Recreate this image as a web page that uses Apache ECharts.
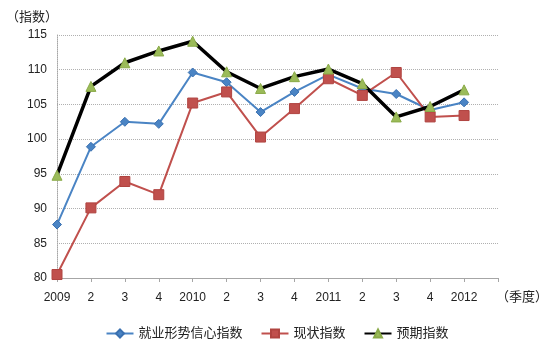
<!DOCTYPE html>
<html>
<head>
<meta charset="utf-8">
<script src="https://cdn.jsdelivr.net/npm/echarts@6/dist/echarts.min.js"></script>
<style>
html,body{margin:0;padding:0;background:#fff;}
#main{width:554px;height:353px;}
</style>
</head>
<body>
<div id="main"></div>
<script>
// 季度分类：最后一个空位留给（季度）
var quarters = ['2009','2','3','4','2010','2','3','4','2011','2','3','4','2012',''];
var jobIndex = [87.7, 98.9, 102.5, 102.2, 109.6, 108.2, 103.9, 106.8, 109.3, 107.3, 106.5, 104.2, 105.3, null];
var nowIndex = [80.5, 90.1, 93.9, 92.0, 105.2, 106.8, 100.3, 104.4, 108.7, 106.3, 109.6, 103.2, 103.4, null];
var expIndex = [94.8, 107.6, 111.0, 112.7, 114.1, 109.7, 107.3, 109.0, 110.1, 108.0, 103.2, 104.7, 107.1, null];
var yTicks = [80, 85, 90, 95, 100, 105, 110, 115];

var fontFamily = '"Liberation Sans","Noto Sans CJK SC",sans-serif';
var chart = echarts.init(document.getElementById('main'));
var option = {
    animation: false,
    textStyle: {fontFamily: fontFamily},
    grid: {left: 57, right: 56, top: 35, bottom: 75},
    xAxis: {
        type: 'category',
        data: quarters,
        boundaryGap: false,
        axisLine: {lineStyle: {color: '#a6a6a6', width: 1}},
        axisTick: {show: true, interval: 0, length: 4, lineStyle: {color: '#a6a6a6'}},
        axisLabel: {interval: 0, color: '#222', fontSize: 12, margin: 14},
        splitLine: {show: false}
    },
    yAxis: {
        type: 'value',
        min: yTicks[0],
        max: yTicks[yTicks.length - 1],
        interval: 5,
        axisLine: {show: true, lineStyle: {color: '#a6a6a6', type: 'dotted'}},
        axisTick: {show: false},
        axisLabel: {color: '#222', fontSize: 12, margin: 10},
        splitLine: {lineStyle: {color: '#b0b0b0', type: 'dotted', width: 1}}
    },
    legend: {
        bottom: 8,
        left: 'center',
        itemWidth: 27,
        itemHeight: 10,
        itemGap: 18,
        textStyle: {fontSize: 13, color: '#222', fontFamily: fontFamily},
        data: ['就业形势信心指数', '现状指数', '预期指数']
    },
    graphic: [
        {type: 'text', left: 6, top: 11, style: {text: '（指数）', fontSize: 13, fill: '#222', fontFamily: fontFamily}},
        {type: 'text', left: 496, top: 291, style: {text: '（季度）', fontSize: 13, fill: '#222', fontFamily: fontFamily}}
    ],
    series: [
        {
            name: '就业形势信心指数',
            type: 'line',
            data: jobIndex,
            symbol: 'diamond',
            symbolSize: 9,
            lineStyle: {color: '#4a84c4', width: 2},
            itemStyle: {color: '#4a84c4', borderColor: '#3a70b0', borderWidth: 1}
        },
        {
            name: '现状指数',
            type: 'line',
            data: nowIndex,
            symbol: 'rect',
            symbolSize: 10,
            lineStyle: {color: '#c0504d', width: 2},
            itemStyle: {color: '#c0504d', borderColor: '#b04440', borderWidth: 1}
        },
        {
            name: '预期指数',
            type: 'line',
            data: expIndex,
            symbol: 'triangle',
            symbolSize: 10,
            lineStyle: {color: '#000', width: 3.5},
            itemStyle: {color: '#9bbb59', borderColor: '#8aaa48', borderWidth: 1}
        }
    ]
};
chart.setOption(option);
</script>
</body>
</html>
